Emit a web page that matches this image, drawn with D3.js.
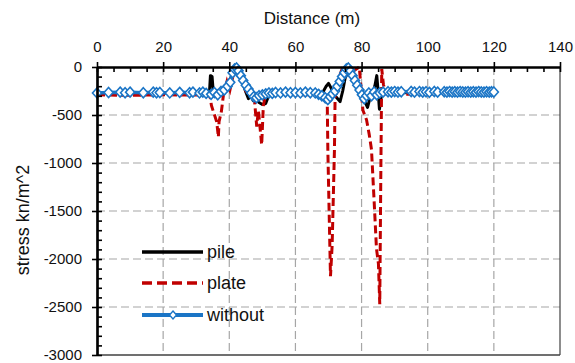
<!DOCTYPE html>
<html>
<head>
<meta charset="utf-8">
<script src="https://cdn.jsdelivr.net/npm/d3@7/dist/d3.min.js"></script>
<style>
  html, body { margin: 0; padding: 0; background: #fff; }
  svg { display: block; font-family: "Liberation Sans", Arial, sans-serif; }
</style>
</head>
<body>
<svg id="chart" width="575" height="363"></svg>
<script>
// Distance along the section (m) and stress (kN/m^2) for each case
const pileX = [0, 10, 20, 30, 33, 34, 34.3, 34.8, 35.2, 36, 37, 38, 39.5, 41, 42, 43, 44, 45, 45.8, 46.5, 47.2, 48, 49, 50, 51, 52, 54, 60, 66, 68, 69.3, 70, 70.8, 71.5, 72.5, 73.5, 74.3, 75, 76, 77, 78, 79, 80, 81, 81.8, 82.5, 83.3, 84, 84.6, 85, 85.4, 86, 87, 90, 100, 110, 120];
const pileY = [-270, -268, -270, -272, -280, -270, -90, -100, -280, -300, -280, -250, -200, -60, -20, -60, -160, -260, -330, -280, -350, -330, -370, -390, -380, -290, -270, -268, -270, -280, -200, -170, -220, -290, -320, -360, -250, -120, -40, -80, -160, -230, -300, -360, -420, -330, -300, -200, -90, -250, -440, -300, -270, -268, -265, -262, -262];

const plateX = [0, 10, 20, 30, 33.5, 34.2, 34.6, 35.2, 36.2, 36.7, 36.9, 37.6, 38.2, 39.3, 40.2, 41.2, 42, 43, 44, 45, 46, 47, 47.5, 48.3, 48.8, 49.8, 50.3, 51, 52, 60, 67, 68.5, 69.6, 69.8, 70.6, 71.1, 71.8, 72, 72.7, 73.5, 74.3, 75.2, 76, 77, 78, 79.3, 79.8, 80.4, 81.5, 82.3, 83, 83.8, 84.5, 85.1, 85.5, 85.8, 86.1, 86.6, 87.3, 90, 100, 110, 120];
const plateY = [-290, -295, -290, -292, -290, -310, -400, -465, -570, -730, -570, -465, -300, -150, -240, -80, -30, -80, -170, -250, -280, -300, -300, -620, -450, -810, -400, -290, -285, -288, -290, -295, -300, -860, -2180, -1860, -860, -300, -250, -80, 0, -40, -10, -60, -30, 0, -200, -450, -550, -700, -860, -1400, -1890, -2050, -2470, -1200, -20, -180, -280, -285, -282, -280, -278];

const withoutX = [0, 3.5, 7, 8.5, 10, 14, 17, 18, 19, 22, 25, 28, 29, 31, 32, 33, 34.5, 35.5, 36.5, 37.5, 38.5, 39.5, 40.3, 41, 41.6, 42.2, 42.8, 43.5, 44.2, 45, 45.8, 46.6, 47.4, 48.2, 49, 50, 51, 52, 53, 54, 55.5, 57, 58.5, 60, 61.5, 63, 64.5, 66, 67, 68, 69, 69.8, 70.5, 71.2, 72, 72.7, 73.4, 74.1, 74.8, 75.4, 76, 76.6, 77.3, 78, 78.7, 79.4, 80.1, 80.8, 81.5, 82.2, 83, 83.8, 84.6, 85.5, 86.5, 88, 89, 90, 91, 92, 95, 96, 97.5, 98.5, 99.5, 100.5, 102, 103, 105, 105.8, 106.6, 107.4, 108.2, 109, 109.8, 110.6, 111.4, 112.2, 113, 113.8, 114.6, 115.4, 116.2, 117, 117.8, 118.6, 119.3, 120];
const withoutY = [-270, -265, -262, -268, -262, -268, -262, -268, -265, -270, -264, -268, -262, -270, -262, -275, -285, -265, -290, -255, -240, -200, -160, -60, -20, -10, -40, -90, -140, -190, -230, -270, -310, -320, -300, -290, -280, -270, -275, -265, -270, -262, -268, -265, -270, -262, -268, -270, -285, -300, -320, -340, -310, -280, -250, -200, -150, -100, -60, -20, -10, -40, -90, -140, -190, -240, -290, -330, -300, -270, -300, -260, -290, -270, -262, -258, -262, -256, -262, -258, -255, -262, -256, -262, -258, -264, -255, -262, -258, -262, -256, -262, -258, -262, -256, -260, -262, -258, -262, -258, -262, -256, -260, -262, -258, -262, -258, -260];

const xMajor = [0, 20, 40, 60, 80, 100, 120, 140];
const xMinor = [5, 10, 15, 25, 30, 35, 45, 50, 55, 65, 70, 75, 85, 90, 95, 105, 110, 115, 125, 130, 135];
const yMajor = [0, -500, -1000, -1500, -2000, -2500, -3000];
const yMinor = [-100, -200, -300, -400, -600, -700, -800, -900, -1100, -1200, -1300, -1400, -1600, -1700, -1800, -1900, -2100, -2200, -2300, -2400, -2600, -2700, -2800, -2900];

const seriesNames = ["pile", "plate", "without"];
const colors = { pile: "#000000", plate: "#C00000", without: "#1B75C6" };

const svg = d3.select("#chart");
const plotLeft = 97, plotRight = 560, plotTop = 67, plotBottom = 355;

const x = d3.scaleLinear().domain([0, 140]).range([plotLeft, plotRight]);
const y = d3.scaleLinear().domain([-3000, 0]).range([plotBottom, plotTop]);

// gridlines
const grid = svg.append("g").attr("stroke", "#A6A6A6").attr("stroke-width", 1.2).attr("stroke-dasharray", "8,4");
grid.selectAll("line.v").data(xMajor.filter(d => d > 0 && d < 140)).join("line").attr("class", "v")
  .attr("x1", d => x(d)).attr("x2", d => x(d)).attr("y1", plotTop).attr("y2", plotBottom);
grid.selectAll("line.h").data(yMajor.filter(d => d < 0 && d > -3000)).join("line").attr("class", "h")
  .attr("x1", plotLeft).attr("x2", plotRight).attr("y1", d => y(d)).attr("y2", d => y(d));

// plot border (right and bottom)
svg.append("line").attr("x1", plotRight).attr("x2", plotRight).attr("y1", plotTop).attr("y2", plotBottom).attr("stroke", "#404040").attr("stroke-width", 1.2);
svg.append("line").attr("x1", plotLeft).attr("x2", plotRight).attr("y1", plotBottom).attr("y2", plotBottom).attr("stroke", "#404040").attr("stroke-width", 1.5);

// series
const line = d3.line().x(d => x(d[0])).y(d => y(d[1]));
const pileData = pileX.map((d, i) => [d, pileY[i]]);
const plateData = plateX.map((d, i) => [d, plateY[i]]);
const withoutData = withoutX.map((d, i) => [d, withoutY[i]]);

const plotG = svg.append("g");
plotG.append("path").datum(pileData).attr("d", line)
  .attr("fill", "none").attr("stroke", colors.pile).attr("stroke-width", 3).attr("stroke-linejoin", "round");
plotG.append("path").datum(plateData).attr("d", line)
  .attr("fill", "none").attr("stroke", colors.plate).attr("stroke-width", 3).attr("stroke-dasharray", "8,4");
plotG.append("path").datum(withoutData).attr("d", line)
  .attr("fill", "none").attr("stroke", colors.without).attr("stroke-width", 3.5).attr("stroke-linejoin", "round");

const diamond = (cx, cy, w, h) => `M${cx},${cy - h}L${cx + w},${cy}L${cx},${cy + h}L${cx - w},${cy}Z`;
plotG.selectAll("path.mk").data(withoutData).join("path")
  .attr("class", "mk")
  .attr("d", d => diamond(x(d[0]), y(d[1]), 4.5, 5))
  .attr("fill", "#fff").attr("stroke", colors.without).attr("stroke-width", 1.6);

// axes: top (distance) and left (stress)
const axisStyle = g => {
  g.select(".domain").attr("stroke", "#000").attr("stroke-width", 2.2);
  g.selectAll(".tick line").attr("stroke", "#000").attr("stroke-width", 1.6);
  g.selectAll("text").attr("font-size", 15).attr("fill", "#111");
};
const plainNumber = d => String(d);
svg.append("g").attr("transform", `translate(0,${plotTop})`)
  .call(d3.axisTop(x).tickValues(xMajor).tickSize(5).tickPadding(10).tickFormat(plainNumber).tickSizeOuter(0))
  .call(axisStyle);
svg.append("g").attr("transform", `translate(0,${plotTop})`)
  .call(d3.axisTop(x).tickValues(xMajor.concat(xMinor)).tickSize(-5).tickFormat("").tickSizeOuter(0))
  .call(axisStyle);
svg.append("g").attr("transform", `translate(${plotLeft},0)`)
  .call(d3.axisLeft(y).tickValues(yMajor).tickSize(5).tickPadding(10).tickFormat(plainNumber).tickSizeOuter(0))
  .call(axisStyle);
svg.append("g").attr("transform", `translate(${plotLeft},0)`)
  .call(d3.axisLeft(y).tickValues(yMajor.concat(yMinor)).tickSize(-5).tickFormat("").tickSizeOuter(0))
  .call(axisStyle);

// axis titles
svg.append("text").attr("x", 312).attr("y", 24).attr("text-anchor", "middle")
  .attr("font-size", 17).attr("fill", "#111").text("Distance (m)");
svg.append("text").attr("transform", "translate(29,220) rotate(-90)").attr("text-anchor", "middle")
  .attr("font-size", 18).attr("fill", "#111").text("stress kn/m^2");

// legend
const legendY = [252, 283, 315];
const lg = svg.append("g");
seriesNames.forEach((name, i) => {
  const ly = legendY[i];
  const l = lg.append("line").attr("x1", 142).attr("x2", 203).attr("y1", ly).attr("y2", ly)
    .attr("stroke", colors[name]).attr("stroke-width", name === "without" ? 4 : 3.5);
  if (name === "plate") l.attr("stroke-dasharray", "10,5");
  if (name === "without") {
    lg.append("path").attr("d", diamond(173, ly, 3.5, 4)).attr("fill", "#fff")
      .attr("stroke", colors.without).attr("stroke-width", 1.4);
  }
  lg.append("text").attr("x", 207).attr("y", ly).attr("dy", "0.35em")
    .attr("font-size", 18).attr("fill", "#111").text(name);
});
</script>
</body>
</html>
